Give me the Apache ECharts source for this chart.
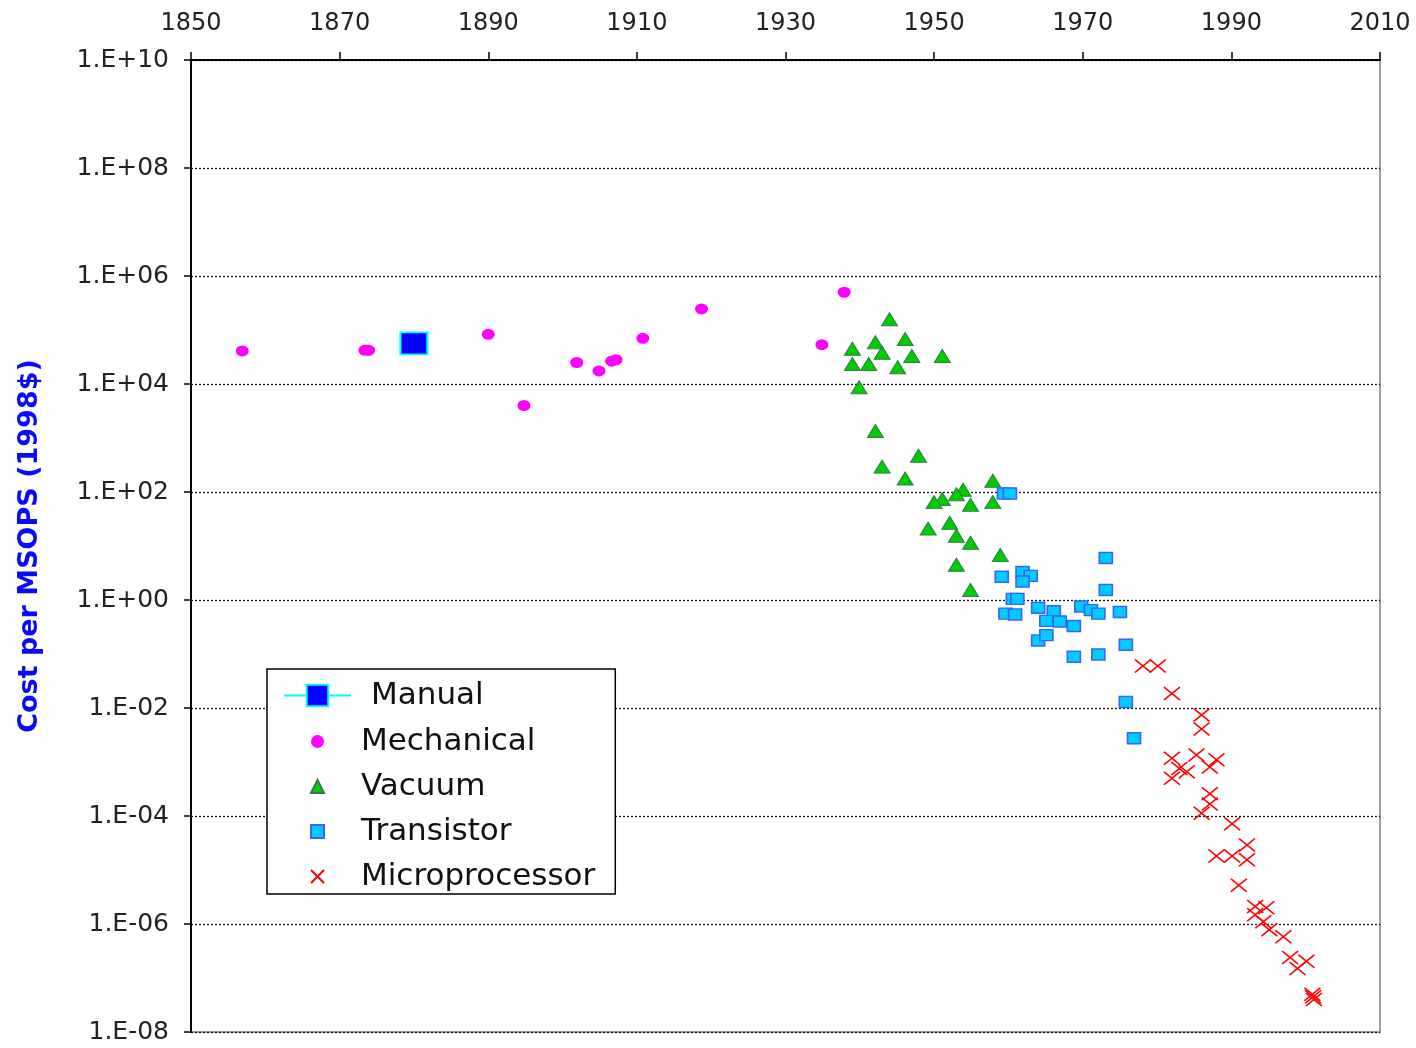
<!DOCTYPE html>
<html>
<head>
<meta charset="utf-8">
<script src="https://cdn.jsdelivr.net/npm/echarts@6/dist/echarts.min.js"></script>
<style>
html,body{margin:0;padding:0;background:#fff;}
#chart{width:1416px;height:1048px;}
</style>
</head>
<body>
<div id="chart"></div>
<script>
// ---- data (year, cost per MSOPS in 1998$) ----
const manualYears = [1880.0];
const manualCost  = [5.66e4];

const mechanicalYears = [1856.9, 1873.4, 1873.9, 1890.0, 1894.8, 1901.9, 1904.9, 1906.6, 1907.2, 1910.8, 1918.7, 1934.9, 1937.9];
const mechanicalCost  = [4.1e4, 4.2e4, 4.2e4, 8.3e4, 4.0e3, 2.5e4, 1.75e4, 2.65e4, 2.8e4, 7.0e4, 2.45e5, 5.35e4, 5.0e5];

const vacuumYears = [1944.0, 1946.1, 1939.0, 1942.1, 1943.0, 1947.0, 1951.1, 1939.0, 1941.2, 1945.1,
                     1939.9, 1942.1, 1947.9, 1943.0, 1946.1, 1957.9, 1953.9, 1953.0, 1951.1, 1950.0,
                     1954.9, 1957.9, 1949.2, 1952.1, 1953.0, 1954.9, 1958.9, 1953.0, 1954.9];
const vacuumCost  = [1.58e5, 6.8e4, 4.5e4, 5.9e4, 3.8e4, 3.3e4, 3.3e4, 2.34e4, 2.34e4, 2.04e4,
                     8.7e3, 1.35e3, 4.7e2, 2.95e2, 1.78e2, 1.62e2, 1.1e2, 91, 74, 65,
                     58, 65, 21, 27, 15.5, 11.5, 6.8, 4.5, 1.53];

const transistorYears = [1959.4, 1960.2, 1973.1, 1959.1, 1961.9, 1963.0, 1961.9, 1973.1, 1960.6, 1961.2,
                         1959.6, 1960.9, 1964.0, 1966.1, 1965.1, 1966.9, 1968.8, 1969.8, 1971.1, 1972.1,
                         1975.0, 1964.0, 1965.1, 1968.8, 1972.1, 1975.8, 1975.8, 1976.9];
const transistorCost  = [94, 94, 6.0, 2.7, 3.3, 2.8, 2.2, 1.53, 1.05, 1.05,
                         0.56, 0.54, 0.72, 0.62, 0.41, 0.40, 0.33, 0.76, 0.65, 0.56,
                         0.60, 0.178, 0.224, 0.089, 0.098, 0.148, 0.0129, 0.00275];

const microYears = [1978.1, 1980.1, 1982.0, 1986.0, 1986.0, 1982.0, 1985.3, 1988.0, 1987.1, 1983.0,
                    1984.0, 1982.0, 1987.1, 1987.1, 1986.0, 1990.1, 1992.1, 1988.0, 1990.1, 1992.1,
                    1991.0, 1993.2, 1994.7, 1993.2, 1994.3, 1995.1, 1997.0, 1997.9, 2000.1, 1998.9,
                    2001.0, 2001.1, 2000.9];
const microCost  = [0.060, 0.060, 0.0186, 0.0074, 0.0041, 0.00117, 0.00135, 0.0011, 8.1e-4, 7.6e-4,
                    6.6e-4, 5.0e-4, 2.57e-4, 1.66e-4, 1.12e-4, 7.2e-5, 2.9e-5, 1.82e-5, 1.82e-5, 1.55e-5,
                    5.2e-6, 2.1e-6, 2.0e-6, 1.48e-6, 1.1e-6, 7.8e-7, 5.8e-7, 2.4e-7, 2.04e-7, 1.5e-7,
                    4.5e-8, 4.0e-8, 5.0e-8];

const xTickYears = [1850, 1870, 1890, 1910, 1930, 1950, 1970, 1990, 2010];
const yAxisName = 'Cost per MSOPS (1998$)';
const seriesNames = ['Manual', 'Mechanical', 'Vacuum', 'Transistor', 'Microprocessor'];

function pairs(xs, ys) { return xs.map((x, i) => [x, ys[i]]); }
function yLabel(v) {
  const e = Math.round(Math.log10(v));
  const a = Math.abs(e);
  return '1.E' + (e < 0 ? '-' : '+') + (a < 10 ? '0' + a : '' + a);
}

const FONT = 'DejaVu Sans';
const chart = echarts.init(document.getElementById('chart'), null, {renderer: 'canvas'});
const option = {
  backgroundColor: '#ffffff',
  animation: false,
  grid: {left: 191, top: 60, right: 36, bottom: 16, show: true, borderColor: '#a0a0a0', borderWidth: 2, backgroundColor: 'transparent'},
  xAxis: {
    type: 'value', position: 'top',
    min: xTickYears[0], max: xTickYears[xTickYears.length - 1], interval: 20,
    axisLine: {show: true, lineStyle: {color: '#000', width: 2}},
    axisTick: {show: true, inside: false, length: 8, lineStyle: {color: '#000', width: 1.5}},
    axisLabel: {fontFamily: FONT, fontSize: 24, color: '#222', margin: 24, formatter: v => String(v)},
    splitLine: {show: false}
  },
  yAxis: {
    type: 'log', logBase: 100, min: 1e-8, max: 1e10, splitNumber: 9,
    name: yAxisName, nameLocation: 'middle', nameGap: 148,
    nameTextStyle: {fontFamily: FONT, fontWeight: 'bold', fontSize: 27, color: '#0a0aff'},
    axisLine: {show: true, lineStyle: {color: '#000', width: 2}},
    axisTick: {show: true, inside: false, length: 7, lineStyle: {color: '#000', width: 1.5}},
    axisLabel: {fontFamily: FONT, fontSize: 25, color: '#222', margin: 22, formatter: yLabel},
    splitLine: {show: true, lineStyle: {color: '#111', width: 1.3, type: [2, 2]}},
    minorTick: {show: false}
  },
  legend: [
    {
      data: ['Mechanical', 'Vacuum', 'Transistor', 'Microprocessor'],
      orient: 'vertical', left: 267, top: 669,
      padding: [57, 20, 2, 43],
      itemWidth: 13, itemHeight: 13, itemGap: 14,
      borderColor: '#000', borderWidth: 1.5, backgroundColor: '#fff',
      textStyle: {fontFamily: FONT, fontSize: 31, lineHeight: 31, color: '#111', padding: [0, 0, 0, 32]},
      selectedMode: false, z: 5
    },
    {
      data: ['Manual'],
      orient: 'vertical', left: 283, top: 680,
      padding: 0,
      itemWidth: 67, itemHeight: 27,
      textStyle: {fontFamily: FONT, fontSize: 31, lineHeight: 31, color: '#111', padding: [0, 0, 0, 15]},
      selectedMode: false, z: 6
    }
  ],
  series: [
    {
      name: 'Manual', type: 'line', data: pairs(manualYears, manualCost),
      symbol: 'rect', symbolSize: [27, 22],
      lineStyle: {color: '#00ffff', width: 1.5},
      itemStyle: {color: '#0000ff', borderColor: '#00ffff', borderWidth: 2}, z: 3
    },
    {
      name: 'Mechanical', type: 'scatter', data: pairs(mechanicalYears, mechanicalCost),
      symbol: 'circle', symbolSize: [13, 11],
      itemStyle: {color: '#ff00ff', opacity: 1}, z: 3
    },
    {
      name: 'Vacuum', type: 'scatter', data: pairs(vacuumYears, vacuumCost),
      symbol: 'triangle', symbolSize: [16, 13],
      itemStyle: {color: '#00cc00', borderColor: '#2e7d4a', borderWidth: 1, opacity: 1}, z: 3
    },
    {
      name: 'Transistor', type: 'scatter', data: pairs(transistorYears, transistorCost),
      symbol: 'rect', symbolSize: [13, 11],
      itemStyle: {color: '#00ccff', borderColor: '#3366ff', borderWidth: 1.5, opacity: 1}, z: 3
    },
    {
      name: 'Microprocessor', type: 'scatter', data: pairs(microYears, microCost),
      symbol: 'path://M0,0L10,10M10,0L0,10', symbolSize: [16, 13],
      itemStyle: {color: '#ff0000', borderColor: '#ff0000', borderWidth: 1.6, opacity: 1}, z: 3
    }
  ]
};
chart.setOption(option);
</script>
</body>
</html>
